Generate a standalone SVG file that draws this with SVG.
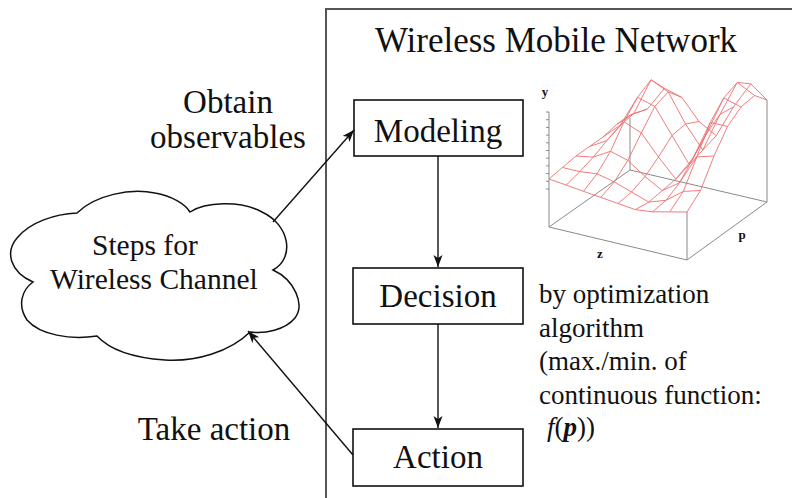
<svg xmlns="http://www.w3.org/2000/svg" width="792" height="498" viewBox="0 0 792 498">
<defs>
<style>
.t{font-family:"Liberation Serif","Times New Roman",serif;fill:#111;}
.box{fill:#fff;stroke:#111;stroke-width:1.6;}
.con{stroke:#111;stroke-width:1.4;fill:none;}
.mesh{fill:none;stroke:#ec6f72;stroke-width:0.9;stroke-linejoin:round;}
.axis{fill:none;stroke:#8a8a8a;stroke-width:1;}
.lbl{font-family:"Liberation Serif","Times New Roman",serif;font-weight:bold;font-size:13px;fill:#111;}
</style>
<marker id="ah" markerUnits="userSpaceOnUse" markerWidth="13" markerHeight="10" refX="12" refY="4.5" orient="auto">
<path d="M0,0 L12,4.5 L0,9 L3,4.5 z" fill="#111"/>
</marker>
</defs>
<rect width="792" height="498" fill="#fff"/>

<g id="frame">
<path d="M326,498 V9 H792" fill="none" stroke="#555" stroke-width="2"/>
<text class="t" x="556" y="52" font-size="35" text-anchor="middle">Wireless Mobile Network</text>
</g>

<g id="cloud">
<path d="M77,213 C95,195 130,188 155,193 C172,196 185,204 190,212 C205,202 240,200 262,212 C290,225 295,258 273,270 C295,280 305,305 295,318 C285,330 265,334 250,332 C230,352 195,362 165,360 C135,358 110,350 97,336 C70,340 40,335 27,320 C17,305 22,290 33,282 C10,272 5,252 17,238 C30,222 55,214 77,213 Z" fill="#fff" stroke="#111" stroke-width="1.5"/>
<text class="t" x="92" y="255" font-size="29.5">Steps for</text>
<text class="t" x="50" y="289" font-size="29.5">Wireless Channel</text>
</g>

<g id="modeling">
<rect class="box" x="354" y="100" width="169" height="56"/>
<text class="t" x="438" y="142" font-size="33" text-anchor="middle">Modeling</text>
</g>
<g id="decision">
<rect class="box" x="353" y="268" width="170" height="56"/>
<text class="t" x="438" y="307" font-size="33" text-anchor="middle">Decision</text>
</g>
<g id="action">
<rect class="box" x="353" y="429" width="170" height="57"/>
<text class="t" x="438" y="468" font-size="33" text-anchor="middle">Action</text>
</g>

<g id="labels">
<text class="t" x="228" y="113" font-size="33" text-anchor="middle">Obtain</text>
<text class="t" x="228" y="148" font-size="33" text-anchor="middle">observables</text>
<text class="t" x="214" y="440" font-size="33" text-anchor="middle">Take action</text>
<g class="t" font-size="27">
<text x="539" y="303">by optimization</text>
<text x="539" y="337">algorithm</text>
<text x="539" y="370">(max./min. of</text>
<text x="539" y="404">continuous function:</text>
<text x="547" y="436"><tspan font-style="italic">f</tspan>(<tspan font-style="italic" font-weight="bold">p</tspan>))</text>
</g>
</g>

<g id="connectors">
<path class="con" d="M273,222 L354,130" marker-end="url(#ah)"/>
<path class="con" d="M353,455 L248,331" marker-end="url(#ah)"/>
<path class="con" d="M438,156 L438,267" marker-end="url(#ah)"/>
<path class="con" d="M438,324 L438,428" marker-end="url(#ah)"/>
</g>

<g id="plot">
<path class="axis" d="M549,112 V227 L687,260 L767,202 M549,227 L630,170 L767,202 M687,212 V260 M767,100 V202 M630,118 V170"/>
<path class="axis" d="M546,112 H549 M546,119.7 H549 M546,127.4 H549 M546,135.1 H549 M546,142.8 H549 M546,150.5 H549 M546,158.2 H549 M546,165.9 H549 M546,173.6 H549 M546,181.3 H549 M546,189 H549"/>
<text class="lbl" x="545" y="96" text-anchor="middle">y</text>
<text class="lbl" x="600" y="258" text-anchor="middle">z</text>
<text class="lbl" x="742" y="239" text-anchor="middle">p</text>
<g class="mesh">
<polyline points="549,179 566.3,185.1 583.5,191.3 600.8,197.4 618,203.5 635.3,209.6 652.5,211.8 669.8,211.9 687,212"/>
<polyline points="562.5,167.5 579.8,171.6 597,173.8 614.3,181.9 631.5,192 648.8,202.1 666,200.3 683.3,191.4 700.5,190.5"/>
<polyline points="576,156 593.3,157.1 610.5,151.3 627.8,160.4 645,176.5 662.3,190.6 679.5,182.8 696.8,156.9 714,156"/>
<polyline points="589.5,146.5 606.8,140.6 624,121.8 641.3,132.9 658.5,157 675.8,179.1 693,158.3 710.3,122.4 727.5,126.5"/>
<polyline points="603,137 620.3,125.1 637.5,97.3 654.8,106.4 672,135.5 689.3,164.6 706.5,133.8 723.8,97.9 741,107"/>
<polyline points="616.5,124.5 633.8,113.6 651,79.8 668.3,91.9 685.5,124 702.8,150.1 720,114.3 737.3,82.4 754.5,95.5"/>
<polyline points="630,115 647.3,109.1 664.5,88.3 681.8,97.4 699,121.5 716.3,135.6 733.5,106.8 750.8,83.9 767,100"/>
<polyline points="549,179 562.5,167.5 576,156 589.5,146.5 603,137 616.5,124.5 630,115"/>
<polyline points="566.3,185.1 579.8,171.6 593.3,157.1 606.8,140.6 620.3,125.1 633.8,113.6 647.3,109.1"/>
<polyline points="583.5,191.3 597,173.8 610.5,151.3 624,121.8 637.5,97.3 651,79.8 664.5,88.3"/>
<polyline points="600.8,197.4 614.3,181.9 627.8,160.4 641.3,132.9 654.8,106.4 668.3,91.9 681.8,97.4"/>
<polyline points="618,203.5 631.5,192 645,176.5 658.5,157 672,135.5 685.5,124 699,121.5"/>
<polyline points="635.3,209.6 648.8,202.1 662.3,190.6 675.8,179.1 689.3,164.6 702.8,150.1 716.3,135.6"/>
<polyline points="652.5,211.8 666,200.3 679.5,182.8 693,158.3 706.5,133.8 720,114.3 733.5,106.8"/>
<polyline points="669.8,211.9 683.3,191.4 696.8,156.9 710.3,122.4 723.8,97.9 737.3,82.4 750.8,83.9"/>
<polyline points="687,212 700.5,190.5 714,156 727.5,126.5 741,107 754.5,95.5 767,100"/>
</g>
</g>
</svg>
